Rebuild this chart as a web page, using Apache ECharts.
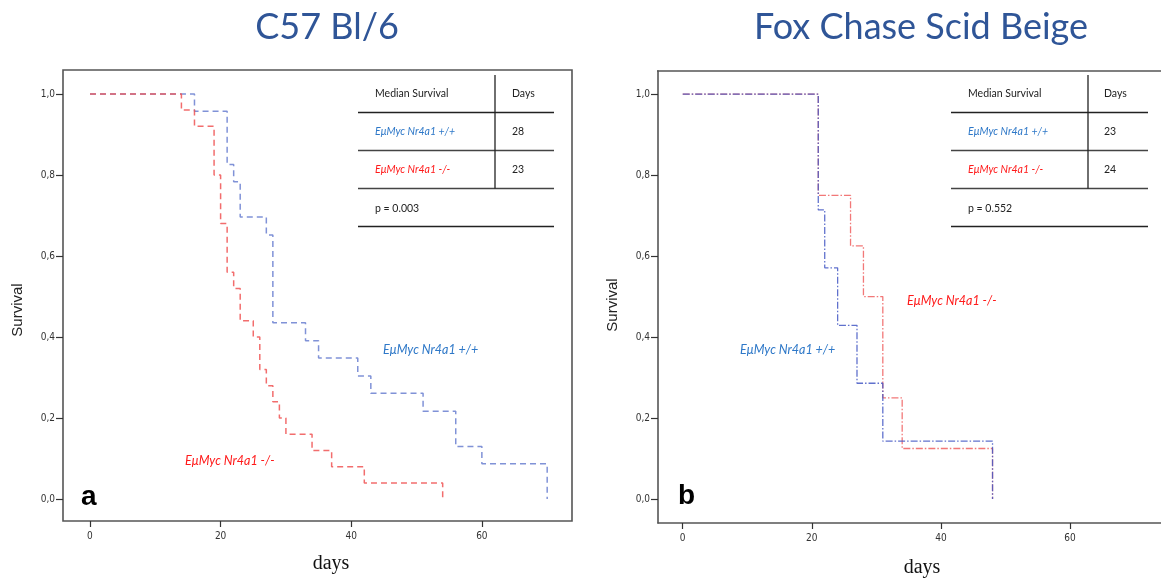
<!DOCTYPE html>
<html><head><meta charset="utf-8">
<script src="https://cdn.jsdelivr.net/npm/echarts@6/dist/echarts.min.js"></script>
<style>html,body{margin:0;padding:0;background:#fff}#c{width:1161px;height:581px}</style>
</head><body><div id="c"></div>
<script>
// ---- data ----
const titleA = 'C57 Bl/6';
const titleB = 'Fox Chase Scid Beige';
const xTicks = [0, 20, 40, 60];
const yTicks = [0, 0.2, 0.4, 0.6, 0.8, 1.0];
const labelWT = 'EμMyc Nr4a1 +/+';
const labelKO = 'EμMyc Nr4a1 -/-';

// Panel a (C57 Bl/6)
const daysA_wt = [0, 16, 21, 22, 23, 27, 28, 33, 35, 41, 43, 51, 56, 60, 70];
const survA_wt = [1, 0.957, 0.826, 0.783, 0.696, 0.652, 0.435, 0.391, 0.348, 0.304, 0.261, 0.217, 0.130, 0.087, 0];
const daysA_ko = [0, 14, 16, 19, 20, 21, 22, 23, 25, 26, 27, 28, 29, 30, 34, 37, 42, 54];
const survA_ko = [1, 0.96, 0.92, 0.80, 0.68, 0.56, 0.52, 0.44, 0.40, 0.32, 0.28, 0.24, 0.20, 0.16, 0.12, 0.08, 0.04, 0];
const medianA = ['28', '23'];
const pA = 'p = 0.003';

// Panel b (Fox Chase Scid Beige)
const daysB_wt = [0, 21, 22, 24, 27, 31, 48];
const survB_wt = [1, 0.714, 0.571, 0.429, 0.286, 0.143, 0];
const daysB_ko = [0, 21, 26, 28, 31, 34, 48];
const survB_ko = [1, 0.75, 0.625, 0.5, 0.25, 0.125, 0];
const medianB = ['23', '24'];
const pB = 'p = 0.552';

const tableHead = ['Median Survival', 'Days'];
const xName = 'days';
const yName = 'Survival';

// ---- styles ----
const BLUE_TXT = '#2e78c8';
const RED_TXT = '#ff1a1a';
const TITLE_C = '#2f5597';
const CAL = 'Lato, "Open Sans", sans-serif';
const NARROW = '"Liberation Sans Narrow", "DejaVu Sans Condensed", "Liberation Sans", sans-serif';
const FRAME = '#555';

const zip = (a, b) => a.map((t, i) => [t, b[i]]);

function xAxis(gi, min, max, line) {
  return {
    type: 'value', gridIndex: gi, min, max, position: 'bottom',
    axisLine: { show: !!line, onZero: false, lineStyle: { color: FRAME, width: 1.6 } }, splitLine: { show: false },
    axisTick: { show: true, customValues: xTicks, length: 6, lineStyle: { color: '#333', width: 1.2 } },
    axisLabel: { customValues: xTicks, color: '#333', fontFamily: NARROW, fontSize: 10, margin: 10 }
  };
}
function yAxis(gi, min, max, line) {
  return {
    type: 'value', gridIndex: gi, min, max, position: 'left',
    axisLine: { show: !!line, onZero: false, lineStyle: { color: FRAME, width: 1.6 } }, splitLine: { show: false },
    axisTick: { show: true, customValues: yTicks, length: 7, lineStyle: { color: '#333', width: 1.2 } },
    axisLabel: { customValues: yTicks, color: '#333', fontFamily: NARROW, fontSize: 10, margin: 8,
      formatter: v => v.toFixed(1).replace('.', ',') }
  };
}
function stepSeries(gi, data, color, type, width) {
  return {
    type: 'line', xAxisIndex: gi, yAxisIndex: gi, step: 'end', data,
    symbol: 'none', silent: true, animation: false,
    lineStyle: { color, width, type, opacity: 0.85 }
  };
}
function txt(x, y, text, o) {
  return { type: 'text', x, y, style: Object.assign({ text, fill: '#222', font: '10.5px ' + CAL, textVerticalAlign: 'middle' }, o || {}) };
}
function hline(x1, x2, y, c, w) {
  return { type: 'line', shape: { x1, y1: y, x2, y2: y }, style: { stroke: c || '#222', lineWidth: w || 1.3 } };
}
function vline(x, y1, y2) {
  return { type: 'line', shape: { x1: x, y1, x2: x, y2 }, style: { stroke: '#222', lineWidth: 1.3 } };
}
function table(x0, x1, xv, xc1, xc2, med, p) {
  const rows = [94, 132, 170, 209];
  const lines = [112.5, 150.5, 188.5, 226.5];
  const it = '10.5px ' + CAL;
  return [
    hline(x0, x1, lines[0]), hline(x0, x1, lines[1], '#444'), hline(x0, x1, lines[2], '#444'), hline(x0, x1, lines[3]),
    vline(xv, 75, lines[2]),
    txt(xc1, rows[0], tableHead[0], { font: it }),
    txt(xc2, rows[0], tableHead[1], { font: it }),
    txt(xc1, rows[1], labelWT, { font: 'italic ' + it, fill: BLUE_TXT }),
    txt(xc2, rows[1], med[0], { font: it }),
    txt(xc1, rows[2], labelKO, { font: 'italic ' + it, fill: RED_TXT }),
    txt(xc2, rows[2], med[1], { font: it }),
    txt(xc1, rows[3], p, { font: it })
  ];
}

const chart = echarts.init(document.getElementById('c'), null, { renderer: 'canvas' });
const dashA = [6, 4];
const dashB = [7, 2, 1.5, 2];
chart.setOption({
  animation: false,
  backgroundColor: '#fff',
  grid: [
    { left: 63, top: 70, width: 509, height: 451, show: true, borderColor: FRAME, borderWidth: 1.6, backgroundColor: 'transparent' },
    { left: 658, top: 71, width: 509, height: 452, show: false }
  ],
  xAxis: [xAxis(0, -4.13, 73.8, false), xAxis(1, -3.83, 74.1, true)],
  yAxis: [yAxis(0, -0.054, 1.059, false), yAxis(1, -0.059, 1.057, true)],
  series: [
    stepSeries(0, zip(daysA_wt, survA_wt), '#6a7fd0', dashA, 1.5),
    stepSeries(0, zip(daysA_ko, survA_ko), '#f05454', dashA, 1.5),
    stepSeries(1, zip(daysB_ko, survB_ko), '#f06060', dashB, 1.3),
    stepSeries(1, zip(daysB_wt, survB_wt), '#4458c4', dashB, 1.3)
  ],
  graphic: [
    hline(657, 1161, 71, FRAME, 1.6),
    txt(327, 27, titleA, { fill: TITLE_C, font: '36px ' + CAL, textAlign: 'center' }),
    txt(921, 27, titleB, { fill: TITLE_C, font: '36px ' + CAL, textAlign: 'center' }),
    { type: 'text', x: 18, y: 310, rotation: Math.PI / 2, style: { text: yName, fill: '#222', font: '15px "Liberation Sans", Arial, sans-serif', textAlign: 'center', textVerticalAlign: 'middle' } },
    { type: 'text', x: 613, y: 305, rotation: Math.PI / 2, style: { text: yName, fill: '#222', font: '15px "Liberation Sans", Arial, sans-serif', textAlign: 'center', textVerticalAlign: 'middle' } },
    txt(331, 564, xName, { font: '20px "Liberation Serif", "Times New Roman", serif', textAlign: 'center', fill: '#111' }),
    txt(922, 568, xName, { font: '20px "Liberation Serif", "Times New Roman", serif', textAlign: 'center', fill: '#111' }),
    txt(81, 497, 'a', { font: 'bold 28px "Liberation Sans", Arial, sans-serif', fill: '#000' }),
    txt(678, 496, 'b', { font: 'bold 28px "Liberation Sans", Arial, sans-serif', fill: '#000' }),
    txt(383, 350, labelWT, { font: 'italic 12.5px ' + CAL, fill: BLUE_TXT }),
    txt(185, 461, labelKO, { font: 'italic 12.5px ' + CAL, fill: RED_TXT }),
    txt(907, 301, labelKO, { font: 'italic 12.5px ' + CAL, fill: RED_TXT }),
    txt(740, 350, labelWT, { font: 'italic 12.5px ' + CAL, fill: BLUE_TXT }),
    ...table(358, 554, 495, 375, 512, medianA, pA),
    ...table(951, 1148, 1088, 968, 1104, medianB, pB)
  ]
});
</script>
</body></html>
